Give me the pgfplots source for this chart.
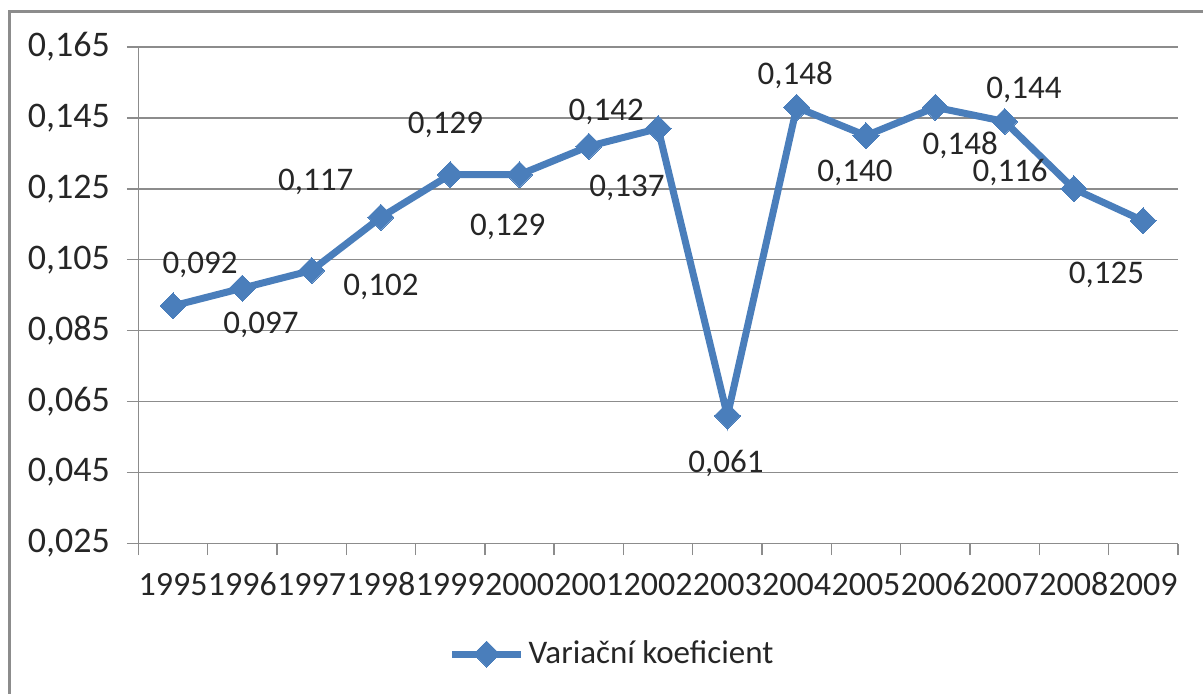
\documentclass[border=0pt]{standalone}
\usepackage{pgfplots}
\pgfplotsset{compat=1.18}
\usepackage{fontspec}
\setmainfont{Carlito}
\definecolor{serie}{HTML}{4A7EBB}
\definecolor{gridc}{HTML}{8C8C8C}
\definecolor{framec}{HTML}{8C8C8C}
\begin{document}
\begin{tikzpicture}
\useasboundingbox (0pt,0pt) rectangle (601.5pt,346.5pt);
\clip (0pt,0pt) rectangle (601.5pt,346.5pt);
\draw[framec, line width=1.5pt] (4.75pt,-10pt) -- (4.75pt,341pt) -- (620pt,341pt);
\begin{axis}[
  at={(69.2pt,74.75pt)}, anchor=south west,
  scale only axis, width=519.7pt, height=248.25pt,
  font=\fontsize{16.5}{19}\selectfont,
  tick label style={font=\fontsize{18}{21}\selectfont, text=black!85},
  /pgf/number format/assume math mode=true,
  xmin=-0.5, xmax=14.5, ymin=0.025, ymax=0.165,
  ytick={0.025,0.045,...,0.166},
  yticklabel={\pgfmathprintnumber[fixed, fixed zerofill, precision=3, use comma]{\tick}},
  ymajorgrids, major grid style={gridc, line width=0.7pt},
  axis x line*=bottom, axis y line*=left,
  axis line style={gridc, line width=0.7pt},
  tick style={gridc, line width=0.7pt},
  tick align=outside, major tick length=5.8pt,
  yticklabel style={xshift=-5pt},
  xtick={-0.5,0.5,...,14.6}, xticklabel=\empty,
  extra x ticks={0,1,...,14},
  extra x tick labels={1995,1996,1997,1998,1999,2000,2001,2002,2003,2004,2005,2006,2007,2008,2009},
  extra x tick style={major tick length=0pt, xmajorgrids=false,
    xticklabel style={font=\fontsize{17}{20}\selectfont, text height=11pt, text depth=0pt, yshift=-11.5pt}},
  legend style={at={(axis description cs:0.298,-0.2226)}, anchor=west, draw=none, fill=none,
    inner sep=0pt, font=\fontsize{16.5}{19}\selectfont, text=black!85},
  legend image code/.code={\draw[mark repeat=2,mark phase=2,#1] plot coordinates {(0pt,0pt) (17.25pt,0pt) (34.5pt,0pt)};},
  clip=false,
]
\addplot[serie, line width=3.5pt, mark=square*, mark size=4.6pt, mark options={rotate=45, line width=0pt, fill=serie}] coordinates {
(0,0.092) (1,0.097) (2,0.102) (3,0.117) (4,0.129) (5,0.129) (6,0.137) (7,0.142)
(8,0.061) (9,0.148) (10,0.140) (11,0.148) (12,0.144) (13,0.125) (14,0.116)};
\addlegendentry{Variační koeficient}
\begin{scope}[every node/.style={font=\fontsize{16.5}{19}\selectfont, text=black!85}]
\node at (axis cs:0.39,0.1035) {0,092};
\node at (axis cs:1.27,0.0866) {0,097};
\node at (axis cs:2.06,0.1269) {0,117};
\node at (axis cs:3.00,0.0973) {0,102};
\node at (axis cs:3.93,0.1430) {0,129};
\node at (axis cs:4.83,0.1142) {0,129};
\node at (axis cs:6.25,0.1467) {0,142};
\node at (axis cs:6.55,0.1252) {0,137};
\node at (axis cs:7.98,0.0477) {0,061};
\node at (axis cs:8.98,0.1571) {0,148};
\node at (axis cs:9.84,0.1295) {0,140};
\node at (axis cs:11.36,0.1374) {0,148};
\node at (axis cs:12.28,0.1529) {0,144};
\node at (axis cs:12.08,0.1295) {0,116};
\node at (axis cs:13.47,0.1007) {0,125};
\end{scope}
\end{axis}
\end{tikzpicture}
\end{document}
